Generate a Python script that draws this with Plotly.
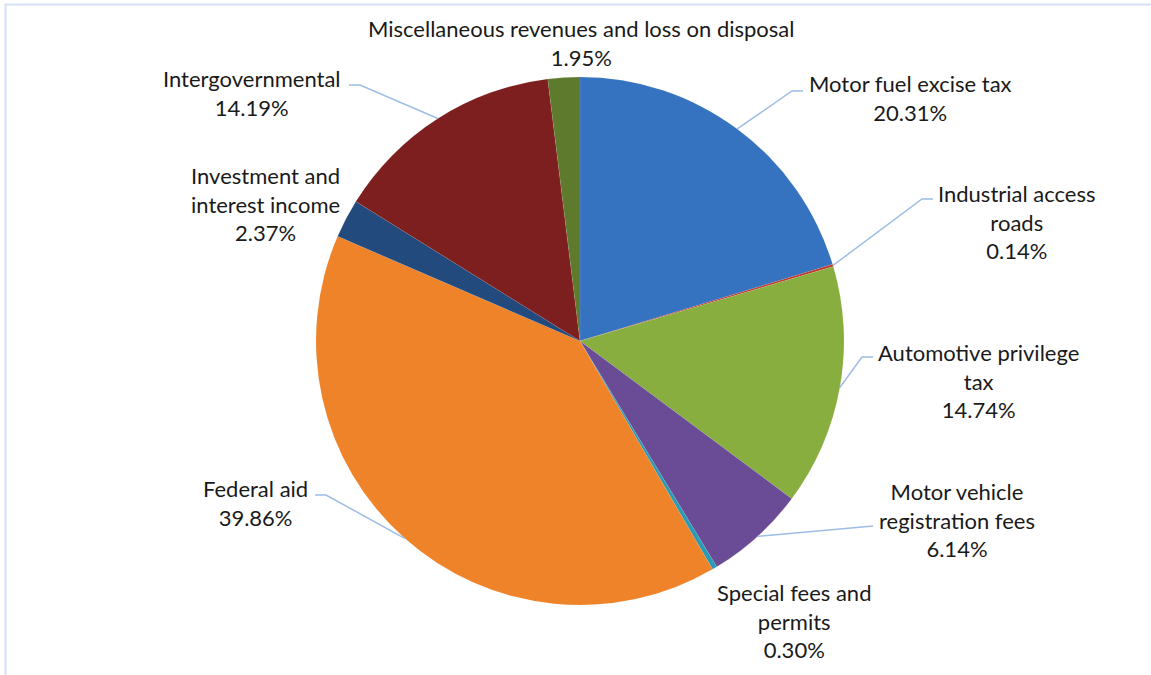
import math
import plotly.graph_objects as go

# ---- data ----
categories = [
    "Motor fuel excise tax",
    "Industrial access roads",
    "Automotive privilege tax",
    "Motor vehicle registration fees",
    "Special fees and permits",
    "Federal aid",
    "Investment and interest income",
    "Intergovernmental",
    "Miscellaneous revenues and loss on disposal",
]
shares = [20.31, 0.14, 14.74, 6.14, 0.30, 39.86, 2.37, 14.19, 1.95]
label_lines = [
    "Motor fuel excise tax",
    "Industrial access<br>roads",
    "Automotive privilege<br>tax",
    "Motor vehicle<br>registration fees",
    "Special fees and<br>permits",
    "Federal aid",
    "Investment and<br>interest income",
    "Intergovernmental",
    "Miscellaneous revenues and loss on disposal",
]

# ---- styling / layout ----
colors = ["#3572bf", "#c0392b", "#88ae40", "#6a4b95", "#2a9bb5",
          "#ee8329", "#234a7c", "#7d1f1f", "#5e7a2c"]
W, H = 1151, 675
CX, CY, R = 580, 341, 264
# label block centres (pixels) and leader-line elbows (pixels; None = no leader)
label_pos = [(910, 98), (1017, 222), (978, 381), (957, 520), (794, 621),
             (256, 503), (265, 204), (252, 93), (581, 43)]
elbows = [((803, 91), (792, 91)), ((933, 199), (922, 199)),
          ((873, 357), (862, 357)), ((873, 526), (862, 527)), None,
          ((315, 495), (326, 495)), None, ((349, 85), (360, 85)), None]

def px(x):
    return x / W

def py(y):
    return 1 - y / H

fig = go.Figure(go.Pie(
    labels=categories,
    values=shares,
    sort=False,
    direction="clockwise",
    rotation=0,
    textinfo="none",
    hoverinfo="label+percent",
    marker=dict(colors=colors, line=dict(color="rgba(255,255,255,0.25)", width=0.3)),
    domain=dict(x=[px(CX - R), px(CX + R)], y=[py(CY + R), py(CY - R)]),
    showlegend=False,
))

annotations = []
shapes = []
total = sum(shares)
cum = 0.0
for i, v in enumerate(shares):
    mid = (cum + v / 2) / total * 2 * math.pi
    cum += v
    ex = CX + R * math.sin(mid)
    ey = CY - R * math.cos(mid)
    lx, ly = label_pos[i]
    annotations.append(dict(
        x=px(lx), y=py(ly), xref="paper", yref="paper",
        text=f"{label_lines[i]}<br>{v:.2f}%",
        showarrow=False, xanchor="center", yanchor="middle", align="center",
        font=dict(family="Lato, Carlito, sans-serif", size=22, color="#1a1a1a"),
    ))
    if elbows[i] is not None:
        (ax, ay), (bx, by) = elbows[i]
        path = f"M {px(ax)} {py(ay)} L {px(bx)} {py(by)} L {px(ex)} {py(ey)}"
        shapes.append(dict(type="path", xref="paper", yref="paper", path=path,
                           line=dict(color="#9dbde6", width=1.5)))

# chart-area frame
shapes.append(dict(type="rect", xref="paper", yref="paper",
                   x0=px(5.5), x1=px(W + 5), y0=py(H + 5), y1=py(4.5),
                   line=dict(color="#d5e2f4", width=2)))

fig.update_layout(
    width=W, height=H,
    margin=dict(l=0, r=0, t=0, b=0),
    paper_bgcolor="white", plot_bgcolor="white",
    annotations=annotations,
    shapes=shapes,
)

fig.write_html("out.html")
